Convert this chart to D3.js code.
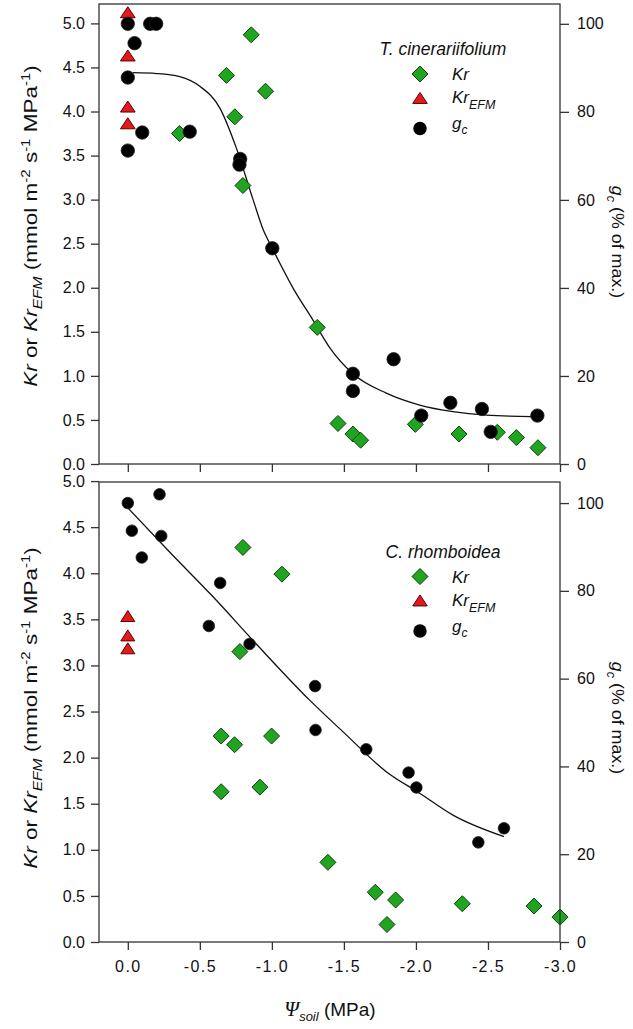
<!DOCTYPE html>
<html>
<head>
<meta charset="utf-8">
<script src="https://cdn.jsdelivr.net/npm/d3@7"></script>
<style>
  html, body { margin: 0; padding: 0; background: #fff; }
  svg { display: block; }
  text { font-family: "Liberation Sans", Arial, sans-serif; fill: #111; }
</style>
</head>
<body>
<svg id="chart" width="633" height="1029"></svg>
<script>
// ---------- shared ticks ----------
const xTickValues = [0, -0.5, -1.0, -1.5, -2.0, -2.5, -3.0];
const xTickLabels = ["0.0", "-0.5", "-1.0", "-1.5", "-2.0", "-2.5", "-3.0"];
const leftTickValues = [0, 0.5, 1.0, 1.5, 2.0, 2.5, 3.0, 3.5, 4.0, 4.5, 5.0];
const leftTickLabels = ["0.0", "0.5", "1.0", "1.5", "2.0", "2.5", "3.0", "3.5", "4.0", "4.5", "5.0"];
const rightTickValues = [0, 20, 40, 60, 80, 100];
const rightTickLabels = ["0", "20", "40", "60", "80", "100"];

// ---------- top panel: T. cinerariifolium ----------
const topKrX = [-0.857, -0.685, -0.956, -0.743, -0.359, -0.799, -1.315, -1.459, -1.5625, -1.616, -1.996, -2.299, -2.565, -2.697, -2.847];
const topKrY = [4.87, 4.41, 4.23, 3.94, 3.75, 3.16, 1.55, 0.46, 0.34, 0.27, 0.45, 0.34, 0.36, 0.30, 0.185];
const topKrEfmX = [0, 0, 0, 0];
const topKrEfmY = [5.12, 4.63, 4.05, 3.86];
const topGcX = [0, -0.155, -0.197, -0.047, 0, -0.10, 0, -0.43, -0.78, -0.775, -1.003, -1.5625, -1.5625, -1.845, -2.037, -2.239, -2.458, -2.519, -2.843];
const topGcY = [100, 100, 100, 95.6, 87.8, 75.3, 71.2, 75.5, 69.3, 68.0, 49.0, 20.5, 16.6, 23.8, 11.0, 13.9, 12.5, 7.3, 11.0];
const topFitX = [-0.035, -0.2, -0.36, -0.5, -0.64, -0.75, -0.87, -0.94, -1.003, -1.15, -1.285, -1.40, -1.5625, -1.794, -2.026, -2.257, -2.49, -2.806];
const topFitY = [88.9, 88.7, 88.0, 85.8, 80.8, 72.1, 60.0, 53.2, 49.0, 39.8, 32.7, 26.5, 20.5, 16.1, 13.4, 11.9, 11.1, 10.75];

// ---------- bottom panel: C. rhomboidea ----------
const botKrX = [-0.799, -1.07, -0.778, -0.648, -0.741, -0.998, -0.648, -0.917, -1.389, -1.718, -1.859, -1.799, -2.322, -2.82, -3.0];
const botKrY = [4.28, 3.99, 3.15, 2.234, 2.14, 2.234, 1.63, 1.68, 0.864, 0.54, 0.456, 0.19, 0.415, 0.39, 0.27];
const botKrEfmX = [0, 0, 0];
const botKrEfmY = [3.53, 3.32, 3.18];
const botGcX = [0, -0.22, -0.028, -0.232, -0.097, -0.641, -0.5625, -0.845, -1.30, -1.303, -1.655, -1.949, -2.003, -2.433, -2.611];
const botGcY = [100, 102.0, 93.7, 92.5, 87.6, 81.8, 72.0, 67.9, 58.3, 48.3, 43.9, 38.6, 35.2, 22.7, 25.9];
const botFitX = [0, -0.3, -0.59, -0.9, -1.262, -1.5, -1.794, -2.026, -2.257, -2.611];
const botFitY = [98.9, 88.5, 78.7, 67.6, 55.1, 47.7, 38.8, 33.9, 28.9, 24.0];

const zip = (xs, ys) => xs.map((x, i) => ({x: x, y: ys[i]}));

const svg = d3.select("#chart");
const X0 = 99, X1 = 560;
const x = d3.scaleLinear().domain([0.2, -3.0]).range([X0, X1]);

const GREEN = "#1fa51f", RED = "#e31a1c";

function diamond(g, cx, cy, r) {
  g.append("path")
    .attr("d", `M${cx},${cy - r}L${cx + r},${cy}L${cx},${cy + r}L${cx - r},${cy}Z`)
    .attr("fill", GREEN).attr("stroke", "#10400f").attr("stroke-width", 1);
}
function triangle(g, cx, cy, w, h) {
  g.append("path")
    .attr("d", `M${cx},${cy - h * 0.55}L${cx + w / 2},${cy + h * 0.45}L${cx - w / 2},${cy + h * 0.45}Z`)
    .attr("fill", RED).attr("stroke", "#5a0000").attr("stroke-width", 1);
}

function panel(cfg) {
  const yL = d3.scaleLinear().domain([0, cfg.leftMax]).range([cfg.bottom, cfg.top]);
  const yR = d3.scaleLinear().domain([0, cfg.rightMax]).range([cfg.bottom, cfg.top]);
  const g = svg.append("g");

  // fit line
  const line = d3.line().x(d => x(d.x)).y(d => yR(d.y)).curve(d3.curveMonotoneX);
  g.append("path").datum(zip(cfg.fitX, cfg.fitY))
    .attr("d", line).attr("fill", "none").attr("stroke", "#111").attr("stroke-width", 1.3);

  // markers
  zip(cfg.krX, cfg.krY).forEach(d => diamond(g, x(d.x), yL(d.y), cfg.dr));
  zip(cfg.efmX, cfg.efmY).forEach(d => triangle(g, x(d.x), yL(d.y), cfg.tw, cfg.th));
  g.selectAll("circle.gc").data(zip(cfg.gcX, cfg.gcY)).enter().append("circle")
    .attr("cx", d => x(d.x)).attr("cy", d => yR(d.y)).attr("r", cfg.cr)
    .attr("fill", "#000").attr("stroke", "#222").attr("stroke-width", 0.8);

  // frame
  g.append("rect").attr("x", X0).attr("y", cfg.top).attr("width", X1 - X0).attr("height", cfg.bottom - cfg.top)
    .attr("fill", "none").attr("stroke", "#333").attr("stroke-width", 1.3);

  // axes
  const axL = d3.axisLeft(yL).tickValues(leftTickValues).tickSize(8).tickPadding(6)
    .tickFormat((d, i) => leftTickLabels[i]);
  const gl = g.append("g").attr("transform", `translate(${X0},0)`).call(axL);
  const axR = d3.axisRight(yR).tickValues(rightTickValues).tickSize(9).tickPadding(8)
    .tickFormat((d, i) => rightTickLabels[i]);
  const gr = g.append("g").attr("transform", `translate(${X1},0)`).call(axR);
  const axB = d3.axisBottom(x).tickValues(xTickValues).tickSize(8).tickPadding(11)
    .tickFormat((d, i) => cfg.showX ? xTickLabels[i] : "");
  const gb = g.append("g").attr("transform", `translate(0,${cfg.bottom})`).call(axB);
  [gl, gr, gb].forEach(a => {
    a.select(".domain").remove();
    a.selectAll("line").attr("stroke", "#333").attr("stroke-width", 1.3);
    a.selectAll("text").attr("font-size", 16).attr("font-family", "Liberation Sans, Arial, sans-serif").attr("fill", "#111");
  });
  gb.selectAll("text").attr("letter-spacing", "1.4px");

  // left title
  const lt = g.append("text")
    .attr("transform", `translate(37,${cfg.ltY}) rotate(-90) scale(1.25,1)`)
    .attr("text-anchor", "middle").attr("font-size", 18);
  lt.append("tspan").attr("font-style", "italic").text("Kr");
  lt.append("tspan").text(" or ");
  lt.append("tspan").attr("font-style", "italic").text("Kr");
  lt.append("tspan").attr("font-style", "italic").attr("font-size", 12.5).attr("dy", 5).text("EFM");
  lt.append("tspan").attr("dy", -5).text(" (mmol m");
  lt.append("tspan").attr("font-size", 12).attr("dy", -7).text("-2");
  lt.append("tspan").attr("dy", 7).text(" s");
  lt.append("tspan").attr("font-size", 12).attr("dy", -7).text("-1");
  lt.append("tspan").attr("dy", 7).text(" MPa");
  lt.append("tspan").attr("font-size", 12).attr("dy", -7).text("-1");
  lt.append("tspan").attr("dy", 7).text(")");

  // right title
  const rt = g.append("text")
    .attr("transform", `translate(612,${cfg.rtY}) rotate(90) scale(1.05,1)`)
    .attr("text-anchor", "middle").attr("font-size", 17);
  rt.append("tspan").attr("font-style", "italic").text("g");
  rt.append("tspan").attr("font-style", "italic").attr("font-size", 12).attr("dy", 5).text("c");
  rt.append("tspan").attr("dy", -5).text(" (% of max.)");

  // legend
  const lx = 420, tx = 452;
  g.append("text").attr("x", 443).attr("y", cfg.legY).attr("text-anchor", "middle")
    .attr("font-size", 17.5).attr("font-style", "italic").text(cfg.name);
  diamond(g, lx, cfg.legY + 19, 8);
  g.append("text").attr("x", tx).attr("y", cfg.legY + 25).attr("font-size", 17).attr("font-style", "italic").text("Kr");
  triangle(g, lx, cfg.legY + 43.5, 14.5, 11);
  const e = g.append("text").attr("x", tx).attr("y", cfg.legY + 48).attr("font-size", 17).attr("font-style", "italic");
  e.append("tspan").text("Kr");
  e.append("tspan").attr("font-size", 12.5).attr("dy", 6).text("EFM");
  g.append("circle").attr("cx", lx).attr("cy", cfg.legY + 73.5).attr("r", 6.7).attr("fill", "#000");
  const gc = g.append("text").attr("x", tx).attr("y", cfg.legY + 74).attr("font-size", 17).attr("font-style", "italic");
  gc.append("tspan").text("g");
  gc.append("tspan").attr("font-size", 12).attr("dy", 5).text("c");
}

panel({
  top: 4, bottom: 464, leftMax: 5.22, rightMax: 104.5, showX: false,
  krX: topKrX, krY: topKrY, efmX: topKrEfmX, efmY: topKrEfmY, gcX: topGcX, gcY: topGcY,
  fitX: topFitX, fitY: topFitY, dr: 8, tw: 14.7, th: 11, cr: 6.7,
  name: "T. cinerariifolium", legY: 55, ltY: 226, rtY: 242
});
panel({
  top: 482, bottom: 942, leftMax: 4.99, rightMax: 104.8, showX: true,
  krX: botKrX, krY: botKrY, efmX: botKrEfmX, efmY: botKrEfmY, gcX: botGcX, gcY: botGcY,
  fitX: botFitX, fitY: botFitY, dr: 8, tw: 14, th: 11, cr: 5.8,
  name: "C. rhomboidea", legY: 557.5, ltY: 708, rtY: 718
});

// x axis title
const xt = svg.append("text").attr("x", 330).attr("y", 1016).attr("text-anchor", "middle").attr("font-size", 19);
xt.append("tspan").attr("font-family", "Liberation Serif, Times New Roman, serif").attr("font-style", "italic").attr("font-size", 21).text("Ψ");
xt.append("tspan").attr("font-style", "italic").attr("font-size", 13).attr("dy", 5).text("soil");
xt.append("tspan").attr("dy", -5).text(" (MPa)");
</script>
</body>
</html>
